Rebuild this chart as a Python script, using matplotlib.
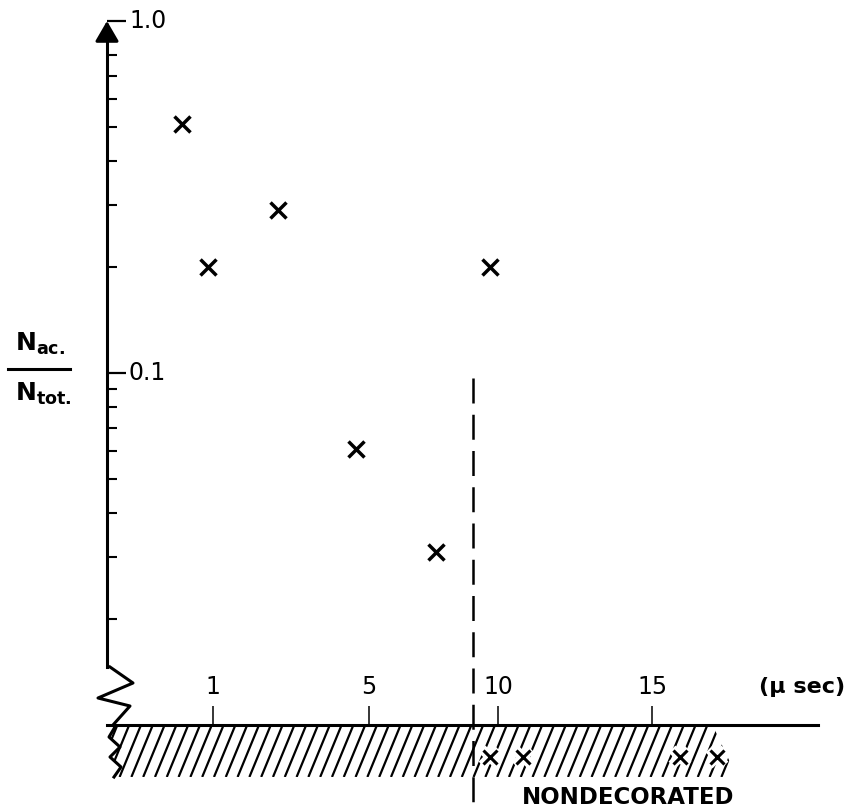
# -- python imports --
import numpy as np
import matplotlib
matplotlib.use("Agg")
import matplotlib.pyplot as plt
import matplotlib.transforms as mtransforms
from matplotlib.collections import LineCollection
from matplotlib.patches import Polygon
from matplotlib.ticker import FixedLocator, NullFormatter, NullLocator

# -- data: time (usec) vs fraction N_ac / N_tot --
t_dec = [0.71, 0.95, 2.67, 4.67, 7.6, 9.7]
frac_dec = [0.51, 0.2, 0.29, 0.061, 0.031, 0.2]
t_nondec = [9.7, 10.8, 15.9, 17.1]
nondec_level = 0.0081      # plotted under the axis (no value)
t_cut = 9.05
cut_top, cut_bottom = 0.097, 0.0059

x_ticks = [1, 5, 10, 15]
x_ticklabels = ["1", "5", "10", "15"]
y_major = [0.1, 1.0]
y_major_labels = ["0.1", "1.0"]
y_minor = [0.02, 0.03, 0.04, 0.05, 0.06, 0.07, 0.08, 0.09,
           0.2, 0.3, 0.4, 0.5, 0.6, 0.7, 0.8]

# hand drawn time axis is not evenly spaced: tick value -> pixel
x_anchor = [-10, 0, 1, 5, 10, 15, 40]
x_anchor_px = [-953, 107, 213, 369, 498, 652, 1422]

W, H = 851, 810


def fwd(v):
    return np.interp(v, x_anchor, x_anchor_px)


def inv(p):
    return np.interp(p, x_anchor_px, x_anchor)


def main():
    fig = plt.figure(figsize=(W / 100, H / 100), dpi=100)
    ax = fig.add_axes([0, 0, 1, 1])
    ax.patch.set_alpha(0)
    pix = mtransforms.Affine2D().scale(1, -1).translate(0, H)

    # -- scales --
    ax.set_xscale("function", functions=(fwd, inv))
    ax.set_yscale("log")
    ax.set_xlim(float(inv(0)), float(inv(W)))
    ax.set_ylim(10 ** (-(H - 21) / 352), 10 ** (21 / 352))

    # -- axes lines --
    for s in ["top", "right"]:
        ax.spines[s].set_visible(False)
    ax.spines["left"].set_position(("data", 0))
    ax.spines["left"].set_bounds(0.0146, 0.97)
    ax.spines["bottom"].set_position(("data", 0.01))
    ax.spines["bottom"].set_bounds(0, float(inv(818)))
    ax.spines["left"].set_linewidth(2.2)
    ax.spines["bottom"].set_linewidth(2.2)

    ax.yaxis.set_major_locator(FixedLocator(y_major))
    ax.yaxis.set_minor_locator(FixedLocator(y_minor))
    ax.yaxis.set_minor_formatter(NullFormatter())
    ax.tick_params(axis="y", which="major", direction="in", length=14,
                   width=1.6, labelleft=False)
    ax.tick_params(axis="y", which="minor", direction="in", length=7.5,
                   width=1.5)
    ax.xaxis.set_major_locator(FixedLocator(x_ticks))
    ax.xaxis.set_minor_locator(NullLocator())
    ax.tick_params(axis="x", direction="in", length=14, width=1.1,
                   labelbottom=False)

    ax.annotate("", xy=(0, 1.0), xytext=(0, 0.9),
                arrowprops=dict(arrowstyle="-|>,head_length=0.62,head_width=0.36",
                                mutation_scale=20, color="k", lw=2.2,
                                shrinkA=0, shrinkB=0))

    # -- tick labels --
    yoff = mtransforms.offset_copy(ax.transData, fig=fig, x=22, y=0, units="dots")
    for v, s in zip(y_major, y_major_labels):
        ax.text(0, v, s, transform=yoff, ha="left", va="center", fontsize=17)
    xoff = mtransforms.offset_copy(ax.transData, fig=fig, x=0, y=38, units="dots")
    for v, s in zip(x_ticks, x_ticklabels):
        ax.text(v, 0.01, s, transform=xoff, ha="center", va="center", fontsize=17)
    ax.text(802, 687, "(\u03bc sec)", transform=pix, ha="center", va="center",
            fontsize=16, fontweight="bold")

    # -- y label as fraction --
    ax.text(40, 344, r"$\mathbf{N_{ac.}}$", transform=pix, ha="center",
            va="center", fontsize=18)
    ax.text(43, 394, r"$\mathbf{N_{tot.}}$", transform=pix, ha="center",
            va="center", fontsize=18)
    ax.plot([8, 70], [369, 369], color="k", lw=2.2, transform=pix, clip_on=False)

    # -- axis break + hatched nondecorated band --
    zz = np.array([[110, 667], [133, 683], [98, 698], [130, 706], [113, 725],
                   [115, 727], [109, 737], [120, 747], [110, 757], [121, 767],
                   [114, 777]])
    ax.plot(zz[:, 0], zz[:, 1], color="k", lw=2.2, transform=pix, clip_on=False)
    band = Polygon([[114, 726], [713, 726], [737, 777], [114, 777],
                    [121, 767], [110, 757], [120, 747], [109, 737]],
                   closed=True, transform=pix, fill=False, lw=0)
    ax.add_patch(band)
    xb = np.arange(96, 730, 11.8)
    segs = [[(x, 777), (x + 21, 726)] for x in xb]
    hatch = LineCollection(segs, colors="k", linewidths=1.6, transform=pix)
    hatch.set_clip_path(band)
    ax.add_collection(hatch)
    ax.text(628, 797, "NONDECORATED", transform=pix, ha="center", va="center",
            fontsize=16.5, fontweight="bold")

    # -- cut-off line --
    ax.plot([t_cut, t_cut], [cut_top, cut_bottom], color="k", lw=1.8,
            ls=(0, (10, 4.5)), clip_on=False)

    # -- points --
    ax.plot(t_dec, frac_dec, ls="none", marker="x", ms=12, mew=2.5,
            color="k", clip_on=False)
    ax.plot(t_nondec, [nondec_level] * len(t_nondec), ls="none", marker="x",
            ms=11, mew=7, color="w", clip_on=False)
    ax.plot(t_nondec, [nondec_level] * len(t_nondec), ls="none", marker="x",
            ms=10, mew=2.2, color="k", clip_on=False)

    plt.savefig("out.png", dpi=100)
    plt.close("all")


if __name__ == "__main__":
    main()
